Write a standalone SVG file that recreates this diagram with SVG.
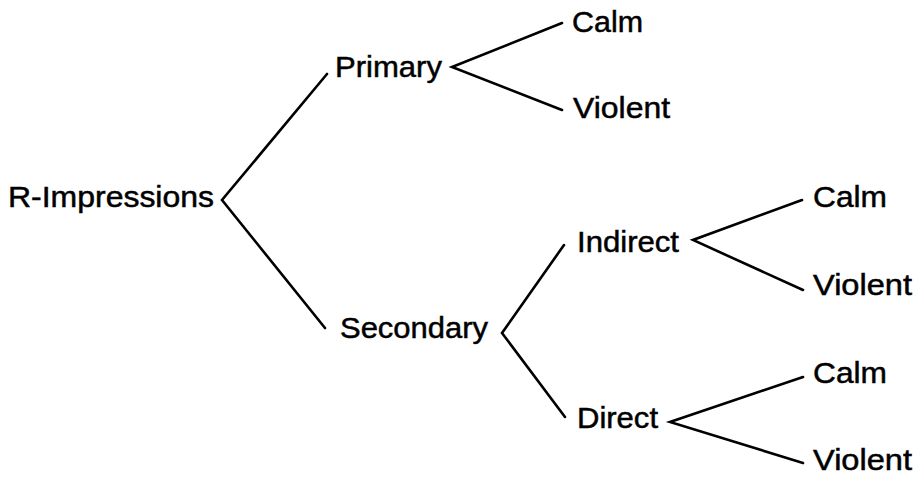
<svg xmlns="http://www.w3.org/2000/svg" width="920" height="478" viewBox="0 0 920 478">
  <style>
    .lbl { font-family: "Liberation Sans", Arial, Helvetica, sans-serif; font-size: 30px; fill: #000; stroke: #000; stroke-width: 0.5; }
    .edge { fill: none; stroke: #000; stroke-width: 2.6; stroke-linecap: round; stroke-linejoin: miter; }
  </style>
  <rect width="920" height="478" fill="#fff"/>

  <!-- branching connectors -->
  <g id="connectors">
    <polyline class="edge" points="327,74 222,200 325,328"/>
    <polyline class="edge" points="562,23 452,67 562,110"/>
    <polyline class="edge" points="564,245 502,333 565,417"/>
    <polyline class="edge" points="802,200 693,240 803,290"/>
    <polyline class="edge" points="803,377 670,422 803,463"/>
  </g>

  <g id="r-impressions"><text class="lbl" x="8" y="207" textLength="206" lengthAdjust="spacingAndGlyphs">R-Impressions</text></g>
  <g id="primary"><text class="lbl" x="335" y="77" textLength="107" lengthAdjust="spacingAndGlyphs">Primary</text></g>
  <g id="primary-calm"><text class="lbl" x="572" y="32" textLength="71" lengthAdjust="spacingAndGlyphs">Calm</text></g>
  <g id="primary-violent"><text class="lbl" x="573" y="118" textLength="97" lengthAdjust="spacingAndGlyphs">Violent</text></g>
  <g id="secondary"><text class="lbl" x="340" y="338" textLength="148" lengthAdjust="spacingAndGlyphs">Secondary</text></g>
  <g id="indirect"><text class="lbl" x="577" y="252" textLength="102" lengthAdjust="spacingAndGlyphs">Indirect</text></g>
  <g id="indirect-calm"><text class="lbl" x="813" y="207" textLength="74" lengthAdjust="spacingAndGlyphs">Calm</text></g>
  <g id="indirect-violent"><text class="lbl" x="813" y="295" textLength="99" lengthAdjust="spacingAndGlyphs">Violent</text></g>
  <g id="direct"><text class="lbl" x="577" y="428" textLength="81" lengthAdjust="spacingAndGlyphs">Direct</text></g>
  <g id="direct-calm"><text class="lbl" x="813" y="383" textLength="74" lengthAdjust="spacingAndGlyphs">Calm</text></g>
  <g id="direct-violent"><text class="lbl" x="813" y="470" textLength="99" lengthAdjust="spacingAndGlyphs">Violent</text></g>
</svg>
